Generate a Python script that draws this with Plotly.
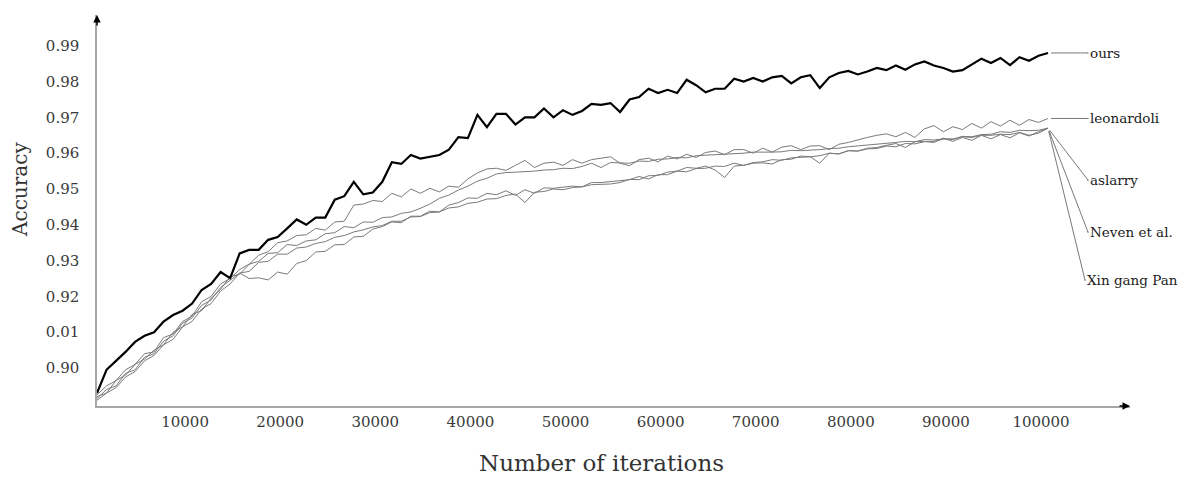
import numpy as np
import plotly.graph_objects as go

# iterations sampled every 1000
iterations = list(range(0, 100001, 1000))

ours = [0.8930, 0.8995, 0.9020, 0.9045, 0.9073, 0.9090, 0.9100, 0.9130, 0.9148, 0.9160,
        0.9180, 0.9218, 0.9235, 0.9268, 0.9251, 0.9320, 0.9330, 0.9330, 0.9358, 0.9366,
        0.9390, 0.9415, 0.9400, 0.9420, 0.9420, 0.9470, 0.9480, 0.9520, 0.9485, 0.9490,
        0.9520, 0.9575, 0.9570, 0.9595, 0.9585, 0.9590, 0.9595, 0.9610, 0.9645, 0.9642,
        0.9707, 0.9673, 0.9710, 0.9710, 0.9680, 0.9700, 0.9700, 0.9725, 0.9700, 0.9720,
        0.9707, 0.9718, 0.9738, 0.9735, 0.9740, 0.9715, 0.9750, 0.9757, 0.9780, 0.9768,
        0.9777, 0.9768, 0.9805, 0.9790, 0.9770, 0.9780, 0.9780, 0.9808, 0.9800, 0.9810,
        0.9800, 0.9812, 0.9816, 0.9795, 0.9812, 0.9818, 0.9782, 0.9812, 0.9824, 0.9830,
        0.9820, 0.9828, 0.9838, 0.9832, 0.9845, 0.9833, 0.9848, 0.9856, 0.9845, 0.9838,
        0.9828, 0.9832, 0.9848, 0.9864, 0.9852, 0.9866, 0.9846, 0.9868, 0.9858, 0.9872,
        0.9880]

leonardoli = [0.8925, 0.8950, 0.8965, 0.8995, 0.9010, 0.9040, 0.9045, 0.9085, 0.9095, 0.9130,
              0.9145, 0.9185, 0.9200, 0.9235, 0.9250, 0.9275, 0.9290, 0.9315, 0.9325, 0.9350,
              0.9355, 0.9370, 0.9372, 0.9390, 0.9385, 0.9408, 0.9410, 0.9455, 0.9458, 0.9468,
              0.9465, 0.9488, 0.9478, 0.9500, 0.9488, 0.9502, 0.9492, 0.9508, 0.9505, 0.9528,
              0.9545, 0.9556, 0.9558, 0.9552, 0.9566, 0.9580, 0.9560, 0.9572, 0.9575, 0.9566,
              0.9582, 0.9572, 0.9582, 0.9586, 0.9590, 0.9572, 0.9565, 0.9582, 0.9586, 0.9576,
              0.9592, 0.9584, 0.9597, 0.9588, 0.9602, 0.9606, 0.9596, 0.9610, 0.9610, 0.9600,
              0.9614, 0.9603, 0.9617, 0.9621, 0.9610, 0.9620, 0.9621, 0.9610, 0.9625, 0.9630,
              0.9638, 0.9644, 0.9650, 0.9654, 0.9646, 0.9658, 0.9644, 0.9668, 0.9677, 0.9660,
              0.9674, 0.9666, 0.9683, 0.9670, 0.9688, 0.9676, 0.9692, 0.9678, 0.9694, 0.9686,
              0.9697]

aslarry = [0.8920, 0.8930, 0.8965, 0.8980, 0.9010, 0.9025, 0.9050, 0.9065, 0.9100, 0.9115,
           0.9150, 0.9160, 0.9195, 0.9220, 0.9255, 0.9262, 0.9290, 0.9298, 0.9320, 0.9322,
           0.9345, 0.9342, 0.9355, 0.9358, 0.9375, 0.9378, 0.9395, 0.9392, 0.9408, 0.9407,
           0.9420, 0.9422, 0.9432, 0.9436, 0.9446, 0.9458, 0.9474, 0.9483, 0.9497, 0.9508,
           0.9522, 0.9530, 0.9542, 0.9546, 0.9547, 0.9548, 0.9550, 0.9553, 0.9554, 0.9558,
           0.9557, 0.9563, 0.9572, 0.9560, 0.9574, 0.9573, 0.9572, 0.9578, 0.9577, 0.9583,
           0.9584, 0.9588, 0.9587, 0.9593, 0.9594, 0.9596, 0.9597, 0.9598, 0.9600, 0.9603,
           0.9602, 0.9603, 0.9604, 0.9608, 0.9607, 0.9608, 0.9610, 0.9613, 0.9614, 0.9618,
           0.9620, 0.9623, 0.9624, 0.9628, 0.9630, 0.9633, 0.9632, 0.9638, 0.9637, 0.9640,
           0.9640, 0.9646, 0.9644, 0.9650, 0.9650, 0.9653, 0.9652, 0.9658, 0.9650, 0.9656,
           0.9670]

neven = [0.8910, 0.8930, 0.8945, 0.8975, 0.8990, 0.9020, 0.9035, 0.9065, 0.9080, 0.9115,
         0.9130, 0.9165, 0.9180, 0.9215, 0.9235, 0.9265, 0.9270, 0.9295, 0.9298, 0.9318,
         0.9318, 0.9335, 0.9338, 0.9348, 0.9353, 0.9365, 0.9370, 0.9380, 0.9386, 0.9394,
         0.9398, 0.9410, 0.9410, 0.9422, 0.9423, 0.9434, 0.9436, 0.9447, 0.9450, 0.9460,
         0.9463, 0.9472, 0.9473, 0.9482, 0.9486, 0.9462, 0.9491, 0.9493, 0.9500, 0.9498,
         0.9504, 0.9506, 0.9512, 0.9513, 0.9514, 0.9518, 0.9527, 0.9526, 0.9537, 0.9538,
         0.9547, 0.9550, 0.9560, 0.9558, 0.9564, 0.9553, 0.9532, 0.9564, 0.9566, 0.9572,
         0.9573, 0.9570, 0.9582, 0.9583, 0.9592, 0.9590, 0.9572, 0.9600, 0.9598, 0.9607,
         0.9606, 0.9614, 0.9616, 0.9622, 0.9627, 0.9616, 0.9632, 0.9633, 0.9630, 0.9642,
         0.9633, 0.9644, 0.9636, 0.9650, 0.9640, 0.9652, 0.9643, 0.9657, 0.9648, 0.9660,
         0.9670]

xin_gang_pan = [0.8915, 0.8940, 0.8950, 0.8985, 0.8995, 0.9030, 0.9040, 0.9075, 0.9090, 0.9125,
                0.9140, 0.9175, 0.9190, 0.9225, 0.9245, 0.9265, 0.9250, 0.9252, 0.9246, 0.9268,
                0.9262, 0.9292, 0.9300, 0.9324, 0.9326, 0.9344, 0.9345, 0.9366, 0.9368, 0.9388,
                0.9395, 0.9408, 0.9406, 0.9424, 0.9424, 0.9438, 0.9436, 0.9455, 0.9462, 0.9475,
                0.9474, 0.9488, 0.9484, 0.9495, 0.9482, 0.9498, 0.9488, 0.9503, 0.9502, 0.9505,
                0.9508, 0.9506, 0.9518, 0.9518, 0.9521, 0.9525, 0.9526, 0.9535, 0.9528, 0.9540,
                0.9540, 0.9550, 0.9548, 0.9557, 0.9558, 0.9564, 0.9563, 0.9572, 0.9566, 0.9574,
                0.9576, 0.9582, 0.9580, 0.9587, 0.9588, 0.9590, 0.9593, 0.9600, 0.9598, 0.9607,
                0.9606, 0.9612, 0.9613, 0.9620, 0.9618, 0.9627, 0.9626, 0.9632, 0.9633, 0.9640,
                0.9638, 0.9647, 0.9646, 0.9652, 0.9653, 0.9660, 0.9658, 0.9664, 0.9663, 0.9664,
                0.9670]

y_tick_vals = [0.90, 0.91, 0.92, 0.93, 0.94, 0.95, 0.96, 0.97, 0.98, 0.99]
y_tick_text = ["0.90", "0.01", "0.92", "0.93", "0.94", "0.95", "0.96", "0.97", "0.98", "0.99"]
x_tick_vals = list(range(10000, 100001, 10000))
x_tick_text = [str(v) for v in x_tick_vals]

gray_series = [("leonardoli", leonardoli), ("aslarry", aslarry),
               ("Neven et al.", neven), ("Xin gang Pan", xin_gang_pan)]

FONT = "DejaVu Serif"
W, H = 1195, 483
OFF = 8  # page body margin offset
# desired on-screen plot box: x 97..1130, y 15..406
ML = 97 - OFF
MT = 15 - OFF
MR = W - (1130 - OFF)
MB = H - (406 - OFF)

fig = go.Figure()
for name, vals in gray_series:
    fig.add_trace(go.Scatter(x=iterations, y=vals, mode="lines", name=name,
                             line=dict(color="#7a7a7a", width=1)))
fig.add_trace(go.Scatter(x=iterations, y=ours, mode="lines", name="ours",
                         line=dict(color="#000000", width=2.2)))

X_MAX = 108620
Y_MIN, Y_MAX = 0.88939, 0.99860

fig.update_layout(
    width=W, height=H,
    margin=dict(l=ML, r=MR, t=MT, b=MB, autoexpand=False),
    paper_bgcolor="white", plot_bgcolor="white",
    showlegend=False,
    font=dict(family=FONT, color="#3a3a3a", size=15),
    xaxis=dict(range=[0, X_MAX], tickvals=x_tick_vals, ticktext=x_tick_text,
               showgrid=False, zeroline=False, showline=True, linecolor="#a6a6a6",
               linewidth=1.5, ticks="", ticklabelstandoff=1, ticklabelshift=-7,
               automargin=False,
               tickfont=dict(size=15, family=FONT, color="#3a3a3a")),
    yaxis=dict(range=[Y_MIN, Y_MAX], tickvals=y_tick_vals, ticktext=y_tick_text,
               showgrid=False, zeroline=False, showline=True, linecolor="#a6a6a6",
               linewidth=1.5, ticks="", ticklabelstandoff=13, automargin=False,
               tickfont=dict(size=15, family=FONT, color="#3a3a3a")),
)

pw = W - ML - MR
ph = H - MT - MB


def px_to_paper(sx, sy):
    fx, fy = sx - OFF, sy - OFF
    return (fx - ML) / pw, ((H - MB) - fy) / ph


# axis titles (placed as in the original)
tx, ty = px_to_paper(601, 463)
fig.add_annotation(xref="paper", yref="paper", x=tx, y=ty,
                   text="Number of iterations", showarrow=False,
                   xanchor="center", yanchor="middle",
                   font=dict(size=23, family=FONT, color="#333333"))
tx, ty = px_to_paper(20, 190)
fig.add_annotation(xref="paper", yref="paper", x=tx, y=ty,
                   text="Accuracy", showarrow=False, textangle=-90,
                   xanchor="center", yanchor="middle",
                   font=dict(size=20, family=FONT, color="#333333"))

# axis arrowheads
fig.add_annotation(xref="paper", yref="paper", x=1, y=0, ax=-12, ay=0, text="",
                   showarrow=True, arrowhead=2, arrowsize=1, arrowwidth=1.5, arrowcolor="#000")
fig.add_annotation(xref="paper", yref="paper", x=0, y=1, ax=0, ay=12, text="",
                   showarrow=True, arrowhead=2, arrowsize=1, arrowwidth=1.5, arrowcolor="#000")

# series labels with leader lines
label_specs = [("ours", ours[-1], 40, 0),
               ("leonardoli", leonardoli[-1], 40, 0),
               ("aslarry", aslarry[-1], 40, 52),
               ("Neven et al.", neven[-1], 40, 104),
               ("Xin gang Pan", xin_gang_pan[-1], 37, 152)]
for text, yv, dx, dy in label_specs:
    fig.add_annotation(x=iterations[-1], y=yv, ax=dx, ay=dy, text=text,
                       xanchor="left", yanchor="middle", showarrow=True,
                       arrowhead=0, arrowside="end+start", startarrowhead=6,
                       startarrowsize=0.35, arrowwidth=0.8, arrowcolor="#555555",
                       standoff=3, startstandoff=0,
                       font=dict(size=13.5, family=FONT, color="#222222"))

fig.write_html("out.html")
